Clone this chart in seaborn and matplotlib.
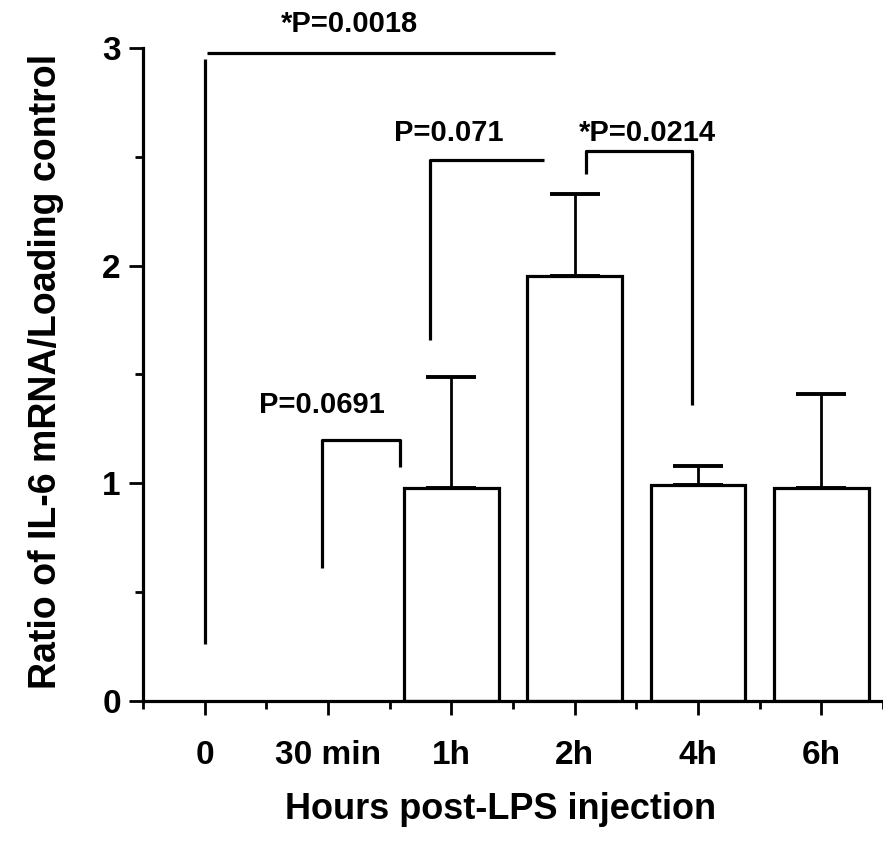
import numpy as np
import pandas as pd
import matplotlib
matplotlib.use("Agg")
import matplotlib.pyplot as plt
import seaborn as sns
from matplotlib.ticker import MultipleLocator

# ---- data ----
categories = ["0", "30 min", "1h", "2h", "4h", "6h"]
means = [np.nan, np.nan, 0.98, 1.95, 0.99, 0.98]
upper = [np.nan, np.nan, 1.49, 2.33, 1.08, 1.41]
pvalue_labels = ["*P=0.0018", "P=0.071", "*P=0.0214", "P=0.0691"]

sns.set_theme(style="ticks")
plt.rcParams["font.family"] = ["Liberation Sans", "DejaVu Sans"]
plt.rcParams["font.weight"] = "bold"
plt.rcParams["text.color"] = "black"
plt.rcParams["axes.labelcolor"] = "black"
plt.rcParams["xtick.color"] = "black"
plt.rcParams["ytick.color"] = "black"

df = pd.DataFrame({"time": categories, "ratio": means})

fig = plt.figure(figsize=(8.83, 8.46), dpi=100)
ax = fig.add_axes([0.162, 0.1714, 0.838, 0.772])

sns.barplot(data=df, x="time", y="ratio", order=categories, errorbar=None,
            color="white", edgecolor="black", linewidth=2.3, width=0.77,
            saturation=1, ax=ax)

# one-sided error bars
xs = np.arange(len(categories))
m = np.array(means, dtype=float)
u = np.array(upper, dtype=float)
ok = ~np.isnan(m)
ax.errorbar(xs[ok], m[ok], yerr=[np.zeros(ok.sum()), (u - m)[ok]], fmt="none",
            ecolor="black", elinewidth=2.0, capsize=18, capthick=2.8, zorder=1)

ax.set_xlim(-0.5, 5.5)
ax.set_ylim(0, 3)
ax.yaxis.set_major_locator(MultipleLocator(1))
ax.yaxis.set_minor_locator(MultipleLocator(0.5))
ax.xaxis.set_minor_locator(MultipleLocator(1, offset=0.5))

for s in ["top", "right"]:
    ax.spines[s].set_visible(False)
for s in ["left", "bottom"]:
    ax.spines[s].set_linewidth(2.3)
    ax.spines[s].set_color("black")

ax.tick_params(axis="both", which="major", direction="out", length=10, width=2,
               color="black", labelsize=24, labelcolor="black")
ax.tick_params(axis="x", which="major", pad=18)
ax.tick_params(axis="y", which="major", pad=6)
ax.tick_params(axis="both", which="minor", direction="out", length=6, width=2,
               color="black")
for lab in ax.get_xticklabels() + ax.get_yticklabels():
    lab.set_fontweight("bold")

ax.set_xlabel("Hours post-LPS injection", fontsize=26, fontweight="bold", labelpad=0)
ax.set_ylabel("Ratio of IL-6 mRNA/Loading control", fontsize=27, fontweight="bold")
ax.xaxis.set_label_coords(0.483, -0.14)
ax.yaxis.set_label_coords(-0.107, 0.504)

# significance brackets (x in category units, y in data units)
lw = 2.3
kw = dict(color="black", lw=lw, clip_on=False, solid_capstyle="butt")
tkw = dict(ha="center", va="center", fontsize=21, fontweight="bold",
           color="black", clip_on=False)
# *P=0.0018
ax.plot([0.0, 0.0], [0.26, 2.95], **kw)
ax.plot([0.02, 2.84], [2.975, 2.975], **kw)
ax.text(1.17, 3.11, pvalue_labels[0], **tkw)
# P=0.071
ax.plot([1.83, 1.83, 2.75], [1.66, 2.485, 2.485], **kw)
ax.text(1.98, 2.61, pvalue_labels[1], **tkw)
# *P=0.0214
ax.plot([3.09, 3.09, 3.95, 3.95], [2.42, 2.525, 2.525, 1.36], **kw)
ax.text(3.59, 2.61, pvalue_labels[2], **tkw)
# P=0.0691
ax.plot([0.955, 0.955, 1.58, 1.58], [0.61, 1.20, 1.20, 1.075], **kw)
ax.text(0.95, 1.36, pvalue_labels[3], **tkw)

fig.savefig("out.png", dpi=100, facecolor="white")
